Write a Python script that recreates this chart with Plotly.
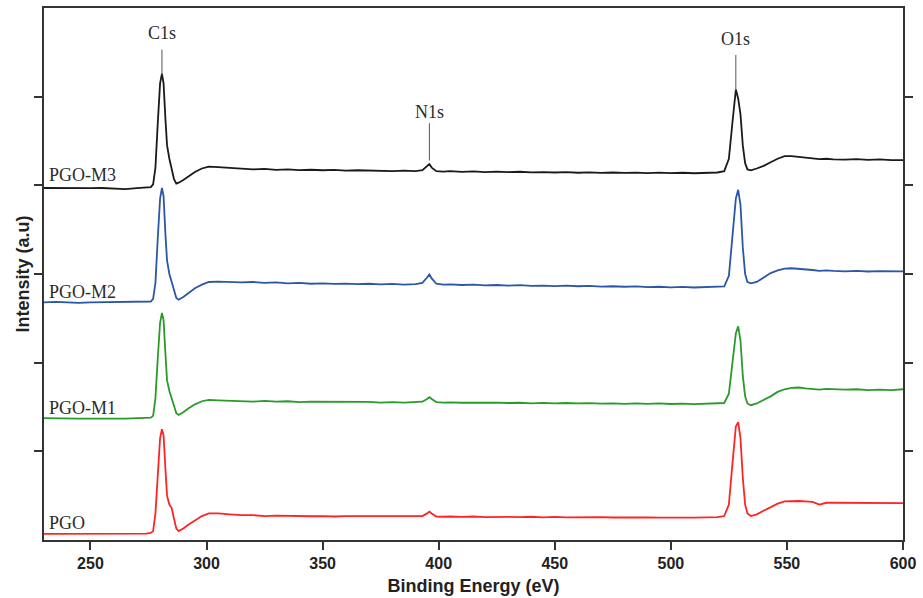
import plotly.graph_objects as go

# Binding energy grid (eV)
energy = [
    230, 235, 240, 245, 250, 255, 260, 265, 270, 274,
    276, 277, 278, 279, 280, 280.8, 281.5, 282.3, 283, 284, 285, 286, 287, 288,
    290, 292, 295, 298, 301, 305,
    310, 315, 320, 325, 330, 335, 340, 345, 350, 355, 360, 365, 370, 375, 380, 385, 390,
    393, 395, 396, 397, 399,
    402, 405, 410, 415, 420, 425, 430, 435, 440, 445, 450, 455, 460, 465, 470, 475, 480, 485, 490, 495, 500, 505, 510, 515, 520,
    523, 525, 526.5, 528, 529, 530, 531, 532, 533, 534.5,
    537, 540, 543, 546, 549, 552, 555, 558, 561, 564, 567, 570, 575, 580, 585, 590, 595, 600,
]

# Offset intensities (a.u.)
pgo = [
    0.07, 0.07, 0.068, 0.07, 0.07, 0.069, 0.07, 0.071, 0.07, 0.072,
    0.08, 0.10, 0.30, 0.75, 1.15, 1.25, 1.18, 0.80, 0.50, 0.40, 0.36, 0.24, 0.13, 0.10,
    0.13, 0.17, 0.22, 0.27, 0.30, 0.30,
    0.29, 0.28, 0.28, 0.27, 0.275, 0.27, 0.27, 0.268, 0.27, 0.265, 0.27, 0.27, 0.265, 0.27, 0.262, 0.268, 0.265,
    0.27, 0.30, 0.32, 0.30, 0.265,
    0.262, 0.265, 0.26, 0.265, 0.258, 0.262, 0.26, 0.258, 0.262, 0.255, 0.26, 0.256, 0.258, 0.252, 0.257, 0.254, 0.256, 0.25, 0.254, 0.252, 0.25, 0.255, 0.252, 0.255, 0.258,
    0.27, 0.40, 0.85, 1.28, 1.33, 1.15, 0.70, 0.40, 0.30, 0.27,
    0.29, 0.33, 0.37, 0.41, 0.435, 0.44, 0.44, 0.435, 0.43, 0.40, 0.42, 0.42, 0.418, 0.42, 0.415, 0.418, 0.41, 0.415,
]

pgo_m1 = [
    1.375, 1.37, 1.372, 1.368, 1.37, 1.373, 1.368, 1.37, 1.372, 1.375,
    1.38, 1.40, 1.60, 2.05, 2.45, 2.56, 2.48, 2.10, 1.80, 1.68, 1.60, 1.50, 1.43, 1.41,
    1.44, 1.48, 1.53, 1.565, 1.58, 1.575,
    1.57, 1.565, 1.56, 1.57, 1.56, 1.565, 1.555, 1.56, 1.56, 1.555, 1.56, 1.552, 1.558, 1.55, 1.556, 1.55, 1.555,
    1.56, 1.59, 1.61, 1.59, 1.555,
    1.55, 1.553, 1.548, 1.55, 1.545, 1.55, 1.545, 1.548, 1.542, 1.546, 1.54, 1.545, 1.54, 1.544, 1.538, 1.542, 1.536, 1.54, 1.535, 1.54, 1.534, 1.538, 1.532, 1.535, 1.535,
    1.545, 1.65, 2.00, 2.33, 2.41, 2.25, 1.85, 1.62, 1.54, 1.52,
    1.54, 1.58, 1.62, 1.67, 1.70, 1.715, 1.72, 1.71, 1.70, 1.695, 1.705, 1.70, 1.695, 1.70, 1.69, 1.695, 1.69, 1.70,
]

pgo_m2 = [
    2.68, 2.685, 2.68, 2.675, 2.68, 2.682, 2.678, 2.68, 2.682, 2.685,
    2.69, 2.72, 2.90, 3.40, 3.85, 3.97, 3.88, 3.45, 3.15, 3.00, 2.90, 2.80, 2.73, 2.71,
    2.74, 2.78, 2.84, 2.88, 2.91, 2.915,
    2.91, 2.905, 2.91, 2.90, 2.905, 2.895, 2.90, 2.89, 2.895, 2.888, 2.892, 2.885, 2.89, 2.883, 2.888, 2.88, 2.885,
    2.90, 2.96, 2.995, 2.95, 2.89,
    2.88, 2.884, 2.876, 2.88, 2.872, 2.876, 2.87, 2.874, 2.866, 2.87, 2.864, 2.868, 2.862, 2.866, 2.858, 2.862, 2.856, 2.86, 2.852, 2.856, 2.85, 2.854, 2.848, 2.85, 2.852,
    2.86, 2.98, 3.45, 3.85, 3.95, 3.78, 3.30, 3.00, 2.91, 2.895,
    2.91, 2.96, 3.01, 3.04, 3.06, 3.065, 3.06, 3.05, 3.045, 3.035, 3.04, 3.035, 3.03, 3.035, 3.028, 3.032, 3.028, 3.03,
]

pgo_m3 = [
    3.97, 3.968, 3.97, 3.972, 3.968, 3.97, 3.965, 3.958, 3.968, 3.972,
    3.98, 4.01, 4.20, 4.70, 5.15, 5.26, 5.15, 4.75, 4.45, 4.30, 4.18, 4.07, 4.02, 4.03,
    4.06, 4.10, 4.15, 4.19, 4.21, 4.205,
    4.195, 4.19, 4.18, 4.185, 4.175, 4.18, 4.172, 4.176, 4.17, 4.174, 4.166, 4.17, 4.165, 4.168, 4.16, 4.165, 4.16,
    4.17, 4.21, 4.24, 4.20, 4.16,
    4.155, 4.16, 4.152, 4.158, 4.15, 4.155, 4.148, 4.153, 4.146, 4.15, 4.145, 4.15, 4.142, 4.147, 4.14, 4.145, 4.14, 4.144, 4.138, 4.143, 4.138, 4.142, 4.136, 4.14, 4.145,
    4.16, 4.30, 4.70, 5.08, 4.98, 4.80, 4.45, 4.25, 4.18, 4.17,
    4.19, 4.22, 4.26, 4.30, 4.33, 4.33, 4.32, 4.31, 4.30, 4.295, 4.30, 4.292, 4.29, 4.295, 4.288, 4.292, 4.285, 4.285,
]

series_names = ["PGO", "PGO-M1", "PGO-M2", "PGO-M3"]
series_values = [pgo, pgo_m1, pgo_m2, pgo_m3]
series_colors = ["#ff2424", "#2a9a2a", "#2c56a6", "#1a1a1a"]

x_ticks = [250, 300, 350, 400, 450, 500, 550, 600]
y_ticks = [1, 2, 3, 4, 5]

# Peak labels: (text, energy, label level, line top/bottom levels)
peak_names = ["C1s", "N1s", "O1s"]
peak_energy = [280.8, 396, 528]
peak_label_y = [5.72, 4.83, 5.65]
peak_line_top = [5.53, 4.70, 5.47]
peak_line_bottom = [5.24, 4.28, 5.07]

label_y = [0.195, 1.49, 2.80, 4.12]

for v in series_values:
    assert len(v) == len(energy), (len(v), len(energy))

fig = go.Figure()
for name, vals, col in zip(series_names, series_values, series_colors):
    fig.add_trace(go.Scatter(x=energy, y=vals, mode="lines", name=name,
                             line=dict(color=col, width=1.8), hoverinfo="skip"))

serif = "Liberation Serif, Times New Roman, serif"
for name, ly in zip(series_names, label_y):
    fig.add_annotation(x=231.2, y=ly, text=name, showarrow=False, xanchor="left",
                       yanchor="middle", font=dict(family=serif, size=18, color="#2b2b2b"))

for name, e, ty, lt, lb in zip(peak_names, peak_energy, peak_label_y, peak_line_top, peak_line_bottom):
    fig.add_annotation(x=e, y=ty, text=name, showarrow=False, xanchor="center",
                       yanchor="middle", font=dict(family=serif, size=18, color="#2b2b2b"))
    fig.add_shape(type="line", x0=e, x1=e, y0=lb, y1=lt, xref="x", yref="y",
                  line=dict(color="#555555", width=1))

sans = "Liberation Sans, Arial, sans-serif"
fig.update_layout(
    width=923, height=598,
    margin=dict(l=44, r=20, t=8, b=58),
    paper_bgcolor="white", plot_bgcolor="white",
    showlegend=False, hovermode=False,
    xaxis=dict(range=[230, 600], tickvals=x_ticks, ticks="outside", ticklen=8,
               tickwidth=1.5, tickcolor="#333", showline=True, linecolor="#333",
               linewidth=1.5, mirror=True, showgrid=False, zeroline=False,
               automargin=False,
               tickfont=dict(family=sans, size=16, color="#222", weight="bold"),
               title=dict(text="Binding Energy (eV)", standoff=8,
                          font=dict(family=sans, size=18, color="#222", weight="bold"))),
    yaxis=dict(range=[0, 6], tickvals=y_ticks, ticks="outside", ticklen=8,
               tickwidth=1.5, tickcolor="#333", showticklabels=False, showline=True,
               linecolor="#333", linewidth=1.5, mirror="ticks", showgrid=False,
               zeroline=False, automargin=False,
               title=dict(text="Intensity (a.u)", standoff=0,
                          font=dict(family=sans, size=18, color="#222", weight="bold"))),
)

fig.write_html("out.html", config={"displayModeBar": False},
               post_script="document.body.style.margin='0';document.body.style.overflow='hidden';")
